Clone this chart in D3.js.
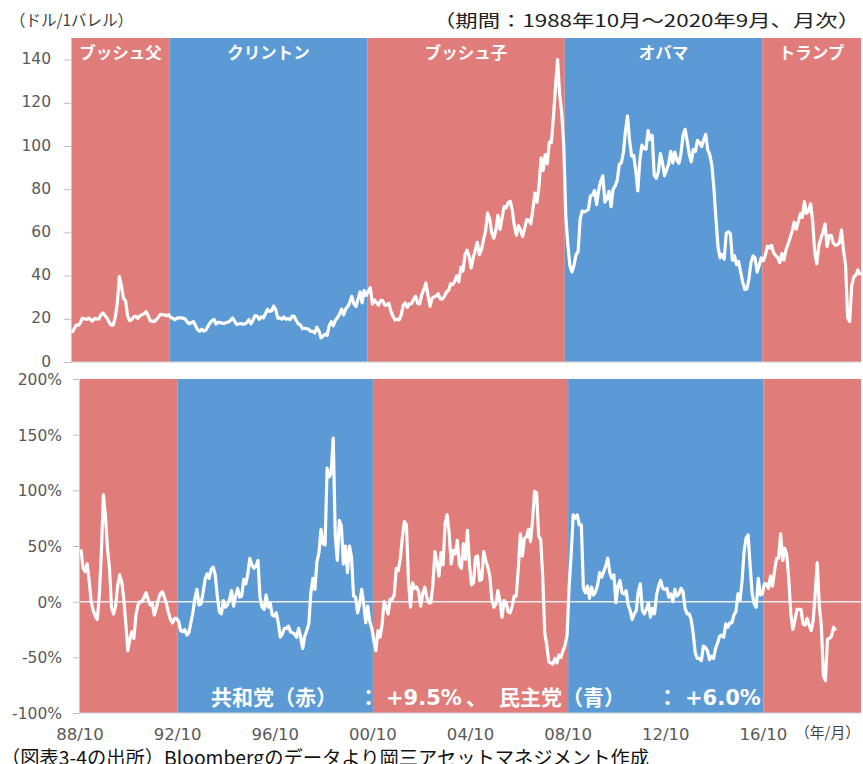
<!DOCTYPE html>
<html><head><meta charset="utf-8">
<script src="https://cdn.jsdelivr.net/npm/d3@7"></script>
<style>body{margin:0;background:#fff}</style>
</head><body><svg id="c" width="863" height="764"></svg>
<script>
// WTI month-end price, Oct 1988 .. Sep 2020 (USD/bbl)
const oilPrice = [
 13.5,15.3,17.1,
 17.0,18.0,20.3,20.0,19.7,20.3,19.6,18.9,20.2,19.9,19.9,21.8,
 22.7,21.5,20.4,18.4,17.1,17.1,20.7,27.2,39.5,35.2,29.4,28.4,
 21.5,19.2,19.6,20.9,21.2,20.2,21.4,22.0,22.2,23.3,21.5,19.1,
 18.9,18.7,19.6,20.8,22.1,21.9,21.8,21.4,21.9,20.6,20.3,19.5,
 20.3,20.4,20.4,20.3,19.9,18.5,17.7,18.2,18.7,16.9,15.0,14.2,
 15.2,14.3,14.7,16.4,18.0,19.1,19.7,17.6,18.4,18.2,18.0,17.8,
 18.4,18.5,19.2,20.4,18.9,17.4,17.6,17.8,17.5,17.6,18.3,19.6,
 17.7,19.5,21.5,21.2,19.8,20.9,20.4,22.3,24.4,23.4,23.7,25.9,
 24.2,20.3,20.4,19.8,20.9,19.8,20.1,19.6,21.2,21.1,19.2,17.6,
 17.2,15.4,15.6,15.4,15.2,14.2,14.2,13.4,16.1,14.4,11.2,12.1,
 12.8,12.3,16.8,18.7,16.8,19.3,20.5,22.1,24.5,21.8,24.6,25.6,
 27.6,30.4,26.9,25.7,29.0,32.5,27.4,33.1,30.8,32.7,34.4,26.8,
 28.7,27.4,26.3,28.5,28.4,26.3,26.4,27.2,23.4,21.2,19.4,19.8,
 19.5,21.7,26.3,27.3,25.3,26.9,27.0,28.9,30.5,27.2,26.9,31.2,
 33.5,36.6,31.0,25.8,29.6,30.2,30.5,31.6,29.2,29.1,30.4,32.5,
 33.1,36.2,35.8,37.4,39.9,37.1,43.8,42.1,49.6,51.8,49.1,43.5,
 48.2,51.8,55.4,49.7,52.0,56.5,60.6,68.9,66.2,59.8,57.3,61.0,
 67.9,61.4,66.6,71.9,71.3,73.9,74.4,70.3,62.9,58.7,63.1,61.1,
 58.1,61.8,65.9,65.7,64.0,70.7,78.2,74.0,81.7,94.5,88.7,96.0,
 91.8,101.8,101.6,113.5,127.4,140.0,124.1,115.5,100.6,67.8,54.4,44.6,
 41.7,44.8,49.7,51.1,66.3,69.9,69.5,70.0,70.6,77.0,77.3,79.4,
 72.9,79.7,83.8,86.2,74.0,75.6,79.0,71.9,80.0,81.4,84.1,91.4,
 92.2,97.0,106.7,113.9,102.7,95.4,95.7,88.8,79.2,93.2,100.4,98.8,
 98.5,107.1,103.0,104.9,86.5,85.0,88.1,96.5,92.2,86.2,88.9,91.8,
 97.5,92.1,97.2,93.5,92.0,96.6,105.0,107.7,102.3,96.4,92.7,98.4,
 97.5,102.6,101.6,99.7,102.7,105.4,98.2,96.0,91.2,80.5,66.2,53.3,
 48.2,49.8,47.6,59.6,60.3,59.5,47.1,49.2,45.1,46.6,41.7,37.0,
 33.6,33.8,38.3,45.9,49.1,48.3,41.6,44.7,48.2,46.9,49.4,53.7,
 52.8,54.0,50.6,49.3,48.3,46.0,50.2,47.2,51.7,54.4,57.4,60.4,
 64.7,61.6,64.9,68.6,67.0,74.2,68.8,69.8,73.3,65.3,50.9,45.4,
 53.8,57.2,60.1,63.9,53.5,58.5,58.6,55.1,54.1,54.2,55.2,61.1,
 51.6,44.8,20.5,18.8,35.5,39.3,40.3,42.6,40.2
];
// year-on-year change (%), as plotted in the lower panel
const yoyChange = [
 47,30,27,34,19,0,-8,-13,-16,6,44,96,
 77,48,30,-5,-11,-4,14,24,18,3,-19,-44,
 -34,-27,-33,-12,-3,0,0,4,8,2,-3,-1,
 -12,-6,2,7,9,4,-2,-10,-16,-19,-15,-15,
 -18,-26,-27,-25,-30,-28,-19,-10,3,11,-3,-2,
 8,20,25,21,29,31,24,5,-9,-11,1,-5,
 -3,2,10,-4,5,12,4,5,20,16,25,39,
 33,30,32,37,4,-5,-7,6,-5,-1,-12,-13,
 -10,-19,-32,-29,-24,-24,-22,-27,-28,-29,-32,-24,
 -32,-42,-31,-26,-20,8,21,11,36,44,65,52,
 51,120,112,116,147,60,37,73,68,34,50,26,
 50,40,5,4,-10,-2,11,-2,-19,-4,-18,-24,
 -35,-44,-26,-32,-21,0,-4,-11,2,2,6,30,
 28,39,58,72,69,18,-5,17,12,13,9,-4,
 7,13,4,-1,-1,15,45,35,23,44,33,70,
 78,62,34,46,43,55,33,30,52,38,64,33,
 15,17,40,41,19,20,45,37,31,23,2,-5,
 -2,10,0,-14,1,-1,-9,-10,-4,5,5,30,
 61,41,57,58,65,54,73,99,98,59,56,23,
 -28,-39,-54,-55,-56,-51,-55,-48,-50,-44,-39,-30,
 14,42,78,75,78,69,69,12,8,14,3,13,
 6,9,15,26,22,27,32,39,26,21,24,-1,
 14,19,8,7,10,-3,-8,-16,-11,-8,9,16,
 -8,-11,-7,-1,-14,-6,-11,6,14,19,12,11,
 12,4,7,0,11,5,7,12,9,-6,-11,-11,
 -16,-29,-46,-51,-51,-53,-40,-41,-44,-52,-49,-51,
 -42,-37,-31,-30,-32,-20,-23,-19,-19,-12,-9,7,
 1,18,45,57,60,32,7,-2,-5,21,6,7,
 16,16,12,23,14,28,39,39,61,37,48,42,
 20,-11,-25,-17,-7,-7,-7,-20,-21,-15,-21,-26,
 -17,8,35,-4,-22,-66,-71,-34,-33,-31,-23,-26
];
const totalMonths = 384;
const termNames = ["ブッシュ父","クリントン","ブッシュ子","オバマ","トランプ"];
const termParty = ["R","D","R","D","R"];
const termStart = [0,48,144,240,336];
const termEnd   = [48,144,240,336,384];
const priceTicks = [0,20,40,60,80,100,120,140];
const pctTicks = [-100,-50,0,50,100,150,200];
const xTickIdx = [0,48,96,144,192,240,288,336];
const xTickLabels = ["88/10","92/10","96/10","00/10","04/10","08/10","12/10","16/10"];
const partyColor = {R:"#E07C7A", D:"#5B9AD4"};

const svg = d3.select("#c");
const jp = "'Noto Sans CJK JP','Noto Sans',sans-serif";
const num = "'DejaVu Sans',sans-serif";

const xTop = d3.scaleLinear().domain([0,totalMonths]).range([71,861]);
const yTop = d3.scaleLinear().domain([0,150]).range([362,38]);
const xBot = d3.scaleLinear().domain([0,totalMonths]).range([80,861]);
const yBot = d3.scaleLinear().domain([-100,200]).range([713,379]);

const terms = termNames.map((n,i)=>({name:n, party:termParty[i], s:termStart[i], e:termEnd[i]}));

// top panel bands
svg.append("g").selectAll("rect").data(terms).join("rect")
  .attr("x", d=>xTop(d.s)).attr("width", d=>xTop(d.e)-xTop(d.s))
  .attr("y", yTop(150)).attr("height", yTop(0)-yTop(150))
  .attr("fill", d=>partyColor[d.party]);
svg.append("g").selectAll("text").data(terms).join("text")
  .attr("x", d=>(xTop(d.s)+xTop(d.e))/2).attr("y", 59)
  .attr("text-anchor","middle").attr("fill","#fff")
  .attr("font-family", jp).attr("font-weight","bold").attr("font-size",16.5)
  .text(d=>d.name);

// bottom panel bands
svg.append("g").selectAll("rect").data(terms).join("rect")
  .attr("x", d=>xBot(d.s)).attr("width", d=>xBot(d.e)-xBot(d.s))
  .attr("y", yBot(200)).attr("height", yBot(-100)-yBot(200))
  .attr("fill", d=>partyColor[d.party]);

// axes
function styleAxis(g){
  g.selectAll(".domain").attr("stroke","#C8C8C8");
  g.selectAll(".tick line").attr("stroke","#BFBFBF");
  g.selectAll(".tick text").attr("fill","#595959").attr("font-family",num).attr("font-size",15.5);
}
svg.append("g").attr("transform","translate(71,0)")
  .call(d3.axisLeft(yTop).tickValues(priceTicks).tickSize(7).tickSizeOuter(0).tickPadding(13))
  .call(styleAxis)
  .call(g=>g.selectAll(".tick text").attr("dy","0.26em"));
svg.append("g").attr("transform","translate(79,0)")
  .call(d3.axisLeft(yBot).tickValues(pctTicks).tickFormat(d=>d+"%").tickSize(6).tickSizeOuter(0).tickPadding(11))
  .call(styleAxis)
  .call(g=>g.selectAll(".tick text").attr("dy","0.36em"));
svg.append("line").attr("x1",xTop(0)).attr("x2",xTop(totalMonths))
  .attr("y1",yTop(0)).attr("y2",yTop(0)).attr("stroke","#D0D0D0").attr("stroke-width",1.2);
svg.append("line").attr("x1",79).attr("x2",xBot(totalMonths))
  .attr("y1",yBot(-100)).attr("y2",yBot(-100)).attr("stroke","#D0D0D0").attr("stroke-width",1.2);
// zero line
svg.append("line").attr("x1",xBot(0)).attr("x2",xBot(totalMonths))
  .attr("y1",yBot(0)).attr("y2",yBot(0)).attr("stroke","#EEEEEE").attr("stroke-width",1.5);

// x tick labels (bottom)
svg.append("g").selectAll("text").data(xTickIdx).join("text")
  .attr("x", d=>xBot(d)).attr("y", 740).attr("text-anchor","middle")
  .attr("fill","#595959").attr("font-family",num).attr("font-size",16.5)
  .text((d,i)=>xTickLabels[i]);
svg.append("text").attr("x",795).attr("y",738).attr("textLength",65).attr("lengthAdjust","spacingAndGlyphs")
  .attr("fill","#404040").attr("font-family",jp).attr("font-size",15).text("（年/月）");

// lines
const lineTop = d3.line().x((d,i)=>xTop(i+0.5)).y(d=>yTop(d));
svg.append("path").datum(oilPrice).attr("d",lineTop)
  .attr("fill","none").attr("stroke","#fff").attr("stroke-width",3.2).attr("stroke-linejoin","round");
const lineBot = d3.line().x((d,i)=>xBot(i+0.5)).y(d=>yBot(d));
svg.append("path").datum(yoyChange).attr("d",lineBot)
  .attr("fill","none").attr("stroke","#fff").attr("stroke-width",3.2).attr("stroke-linejoin","round");

// texts
svg.append("text").attr("x",10).attr("y",26).attr("textLength",123).attr("lengthAdjust","spacingAndGlyphs")
  .attr("fill","#404040").attr("font-family",jp).attr("font-size",16).text("（ドル/1バレル）");
svg.append("text").attr("x",433).attr("y",27).attr("textLength",427).attr("lengthAdjust","spacingAndGlyphs")
  .attr("fill","#222").attr("font-family",jp).attr("font-size",17.5).text("（期間：1988年10月～2020年9月、月次）");

// summary annotation
const note = svg.append("text").attr("y",705).attr("fill","#fff")
  .attr("font-weight","bold").attr("font-size",21);
const noteParts = [
  {t:"共和党（赤）", x:211, f:jp},
  {t:"：", x:358, f:jp},
  {t:"+9.5%", x:386, f:num},
  {t:"、", x:466, f:jp},
  {t:"民主党（青）", x:499, f:jp},
  {t:"：", x:657, f:jp},
  {t:"+6.0%", x:685, f:num}
];
note.selectAll("tspan").data(noteParts).join("tspan")
  .attr("x", d=>d.x).attr("font-family", d=>d.f).text(d=>d.t);

svg.append("text").attr("x",1).attr("y",765).attr("textLength",648).attr("lengthAdjust","spacingAndGlyphs")
  .attr("fill","#111").attr("font-family",jp).attr("font-size",19)
  .text("（図表3-4の出所）Bloombergのデータより岡三アセットマネジメント作成");
</script></body></html>
